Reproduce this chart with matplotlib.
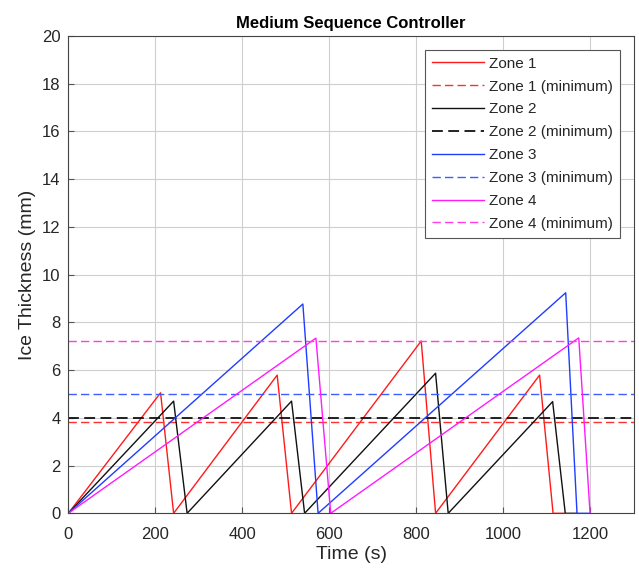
import matplotlib
matplotlib.use("Agg")
import matplotlib.pyplot as plt

plt.rcParams['font.family'] = ['Liberation Sans', 'DejaVu Sans']
plt.rcParams['text.color'] = '#262626'
plt.rcParams['axes.labelcolor'] = '#262626'
plt.rcParams['xtick.color'] = '#262626'
plt.rcParams['ytick.color'] = '#262626'

# Data (time in s, ice thickness in mm)
zone1_t = [0, 212, 242, 480, 513, 811, 844, 1083, 1114, 1142]
zone1_y = [0, 5.05, 0, 5.79, 0, 7.22, 0, 5.79, 0, 0]
zone2_t = [0, 242, 273, 513, 543, 844, 873, 1113, 1142, 1169]
zone2_y = [0, 4.70, 0, 4.70, 0, 5.87, 0, 4.68, 0, 0]
zone3_t = [0, 539, 574, 1143, 1169, 1199]
zone3_y = [0, 8.77, 0, 9.24, 0, 0]
zone4_t = [0, 569, 603, 1173, 1199]
zone4_y = [0, 7.34, 0, 7.35, 0]

zone_min = [3.82, 4.0, 5.0, 7.2]
labels = ["Zone 1", "Zone 2", "Zone 3", "Zone 4"]
colors = ["#ff1a1a", "#111111", "#1f3dff", "#ff1aff"]
min_colors = ["#ff3030", "#111111", "#3f5cff", "#ff3ce8"]

x_ticks = [0, 200, 400, 600, 800, 1000, 1200]
y_ticks = [0, 2, 4, 6, 8, 10, 12, 14, 16, 18, 20]

fig = plt.figure(figsize=(6.39, 5.72), dpi=100)
ax = fig.add_axes([0.1069, 0.1026, 0.8853, 0.8345])

series = [(zone1_t, zone1_y), (zone2_t, zone2_y), (zone3_t, zone3_y), (zone4_t, zone4_y)]
for i, (t, y) in enumerate(series):
    ax.plot(t, y, color=colors[i], lw=1.0, label=labels[i])
    ax.axhline(zone_min[i], color=min_colors[i], lw=1.3 if i == 1 else 1.0,
               ls=(0, (6, 3)), label=labels[i] + " (minimum)")

ax.set_xlim(0, 1300)
ax.set_ylim(0, 20)
ax.set_xticks(x_ticks)
ax.set_yticks(y_ticks)
ax.tick_params(direction='in', labelsize=12, length=4, color='#555555')
ax.tick_params(axis='x', pad=10)
ax.tick_params(axis='y', pad=5.5)
ax.grid(True, color='#cfcfcf', lw=0.8)
ax.set_axisbelow(True)
for s in ax.spines.values():
    s.set_color('#444444')
    s.set_linewidth(0.8)

ax.set_xlabel("Time (s)", fontsize=14, labelpad=3)
ax.set_ylabel("Ice Thickness (mm)", fontsize=14)
ax.set_title("Medium Sequence Controller", fontsize=12, fontweight='bold', pad=6,
             color='black')

leg = ax.legend(loc='upper right', bbox_to_anchor=(0.975, 0.971), borderaxespad=0,
                fontsize=11, handlelength=3.4, handletextpad=0.35, labelspacing=0.58,
                fancybox=False, framealpha=1, edgecolor='#555555', borderpad=0.45)
leg.get_frame().set_linewidth(0.8)

fig.savefig("out.png", dpi=100)
